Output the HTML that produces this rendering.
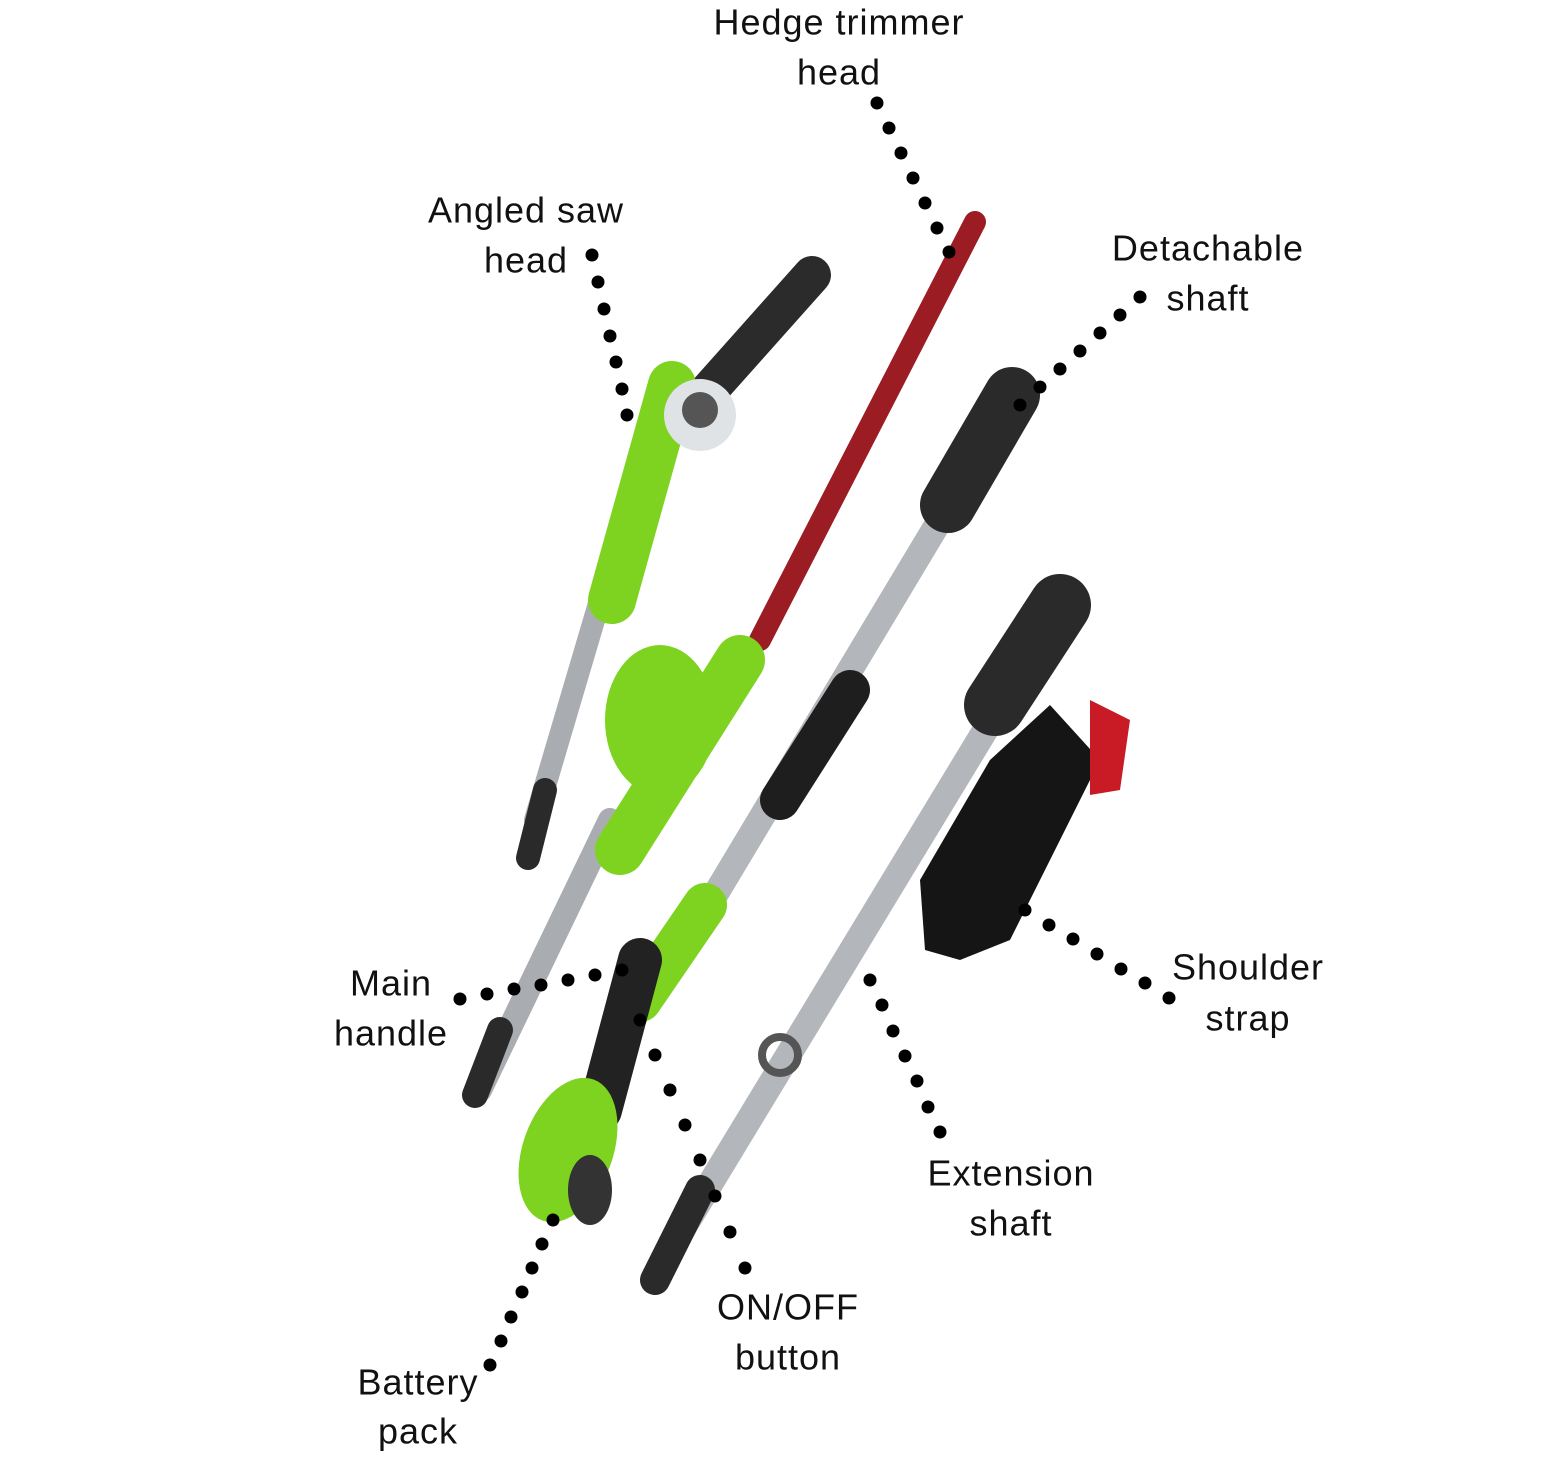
<!DOCTYPE html>
<html><head><meta charset="utf-8"><style>
html,body{margin:0;padding:0;background:#fff;}
svg{display:block}
text{font-family:"Liberation Sans",sans-serif;font-size:36px;letter-spacing:1px;fill:#111;text-anchor:middle;dominant-baseline:middle}
</style></head><body>
<svg width="1555" height="1466" viewBox="0 0 1555 1466" xmlns="http://www.w3.org/2000/svg">
<g stroke-linecap="round" fill="none">
 <line x1="600" y1="600" x2="535" y2="820" stroke="#a9adb2" stroke-width="22"/>
 <line x1="545" y1="790" x2="528" y2="858" stroke="#2a2a2a" stroke-width="24"/>
 <line x1="812" y1="275" x2="705" y2="395" stroke="#2b2b2b" stroke-width="38"/>
 <line x1="672" y1="385" x2="612" y2="600" stroke="#7ed321" stroke-width="48"/>
 <circle cx="700" cy="415" r="36" fill="#dfe3e6"/>
 <circle cx="700" cy="410" r="18" fill="#555"/>
 <line x1="975" y1="222" x2="760" y2="640" stroke="#9b1c22" stroke-width="22"/>
 <line x1="610" y1="820" x2="480" y2="1090" stroke="#a9adb2" stroke-width="24"/>
 <line x1="500" y1="1030" x2="475" y2="1095" stroke="#2a2a2a" stroke-width="26"/>
 <line x1="740" y1="660" x2="620" y2="850" stroke="#7ed321" stroke-width="50"/>
 <ellipse cx="660" cy="720" rx="55" ry="75" fill="#7ed321"/>
 <!-- detachable shaft -->
 <line x1="1000" y1="420" x2="700" y2="920" stroke="#b3b7bc" stroke-width="26"/>
 <line x1="1012" y1="395" x2="948" y2="505" stroke="#2a2a2a" stroke-width="56"/>
 <line x1="850" y1="690" x2="780" y2="800" stroke="#1e1e1e" stroke-width="40"/>
 <line x1="705" y1="905" x2="640" y2="1000" stroke="#7ed321" stroke-width="44"/>
 <line x1="640" y1="960" x2="600" y2="1110" stroke="#222" stroke-width="44"/>
 <ellipse cx="568" cy="1150" rx="45" ry="75" fill="#7ed321" transform="rotate(20 568 1150)"/>
 <ellipse cx="590" cy="1190" rx="22" ry="35" fill="#333"/>
 <!-- extension shaft -->
 <line x1="1040" y1="640" x2="670" y2="1250" stroke="#b3b7bc" stroke-width="26"/>
 <line x1="1060" y1="605" x2="995" y2="705" stroke="#2a2a2a" stroke-width="62"/>
 <line x1="700" y1="1190" x2="655" y2="1280" stroke="#2a2a2a" stroke-width="30"/>
 <circle cx="780" cy="1055" r="18" fill="none" stroke="#555" stroke-width="8"/>
 <polygon points="1050,705 1100,760 1010,940 960,960 925,950 920,880 990,760" fill="#151515" stroke="none"/>
 <polygon points="1090,700 1130,720 1120,790 1090,795" fill="#c81b25" stroke="none"/>
</g>
<g fill="#000">
 <circle cx="877" cy="103" r="6.5"/><circle cx="889" cy="128" r="6.5"/><circle cx="901" cy="153" r="6.5"/><circle cx="913" cy="178" r="6.5"/><circle cx="925" cy="203" r="6.5"/><circle cx="937" cy="228" r="6.5"/><circle cx="949" cy="252" r="6.5"/>
 <circle cx="592" cy="255" r="6.5"/><circle cx="598" cy="282" r="6.5"/><circle cx="604" cy="309" r="6.5"/><circle cx="610" cy="336" r="6.5"/><circle cx="616" cy="362" r="6.5"/><circle cx="622" cy="389" r="6.5"/><circle cx="627" cy="415" r="6.5"/>
 <circle cx="1140" cy="297" r="6.5"/><circle cx="1120" cy="315" r="6.5"/><circle cx="1100" cy="333" r="6.5"/><circle cx="1080" cy="351" r="6.5"/><circle cx="1060" cy="369" r="6.5"/><circle cx="1040" cy="387" r="6.5"/><circle cx="1020" cy="405" r="6.5"/>
 <circle cx="460" cy="999" r="6.5"/><circle cx="487" cy="994" r="6.5"/><circle cx="514" cy="989" r="6.5"/><circle cx="541" cy="985" r="6.5"/><circle cx="568" cy="980" r="6.5"/><circle cx="595" cy="975" r="6.5"/><circle cx="622" cy="970" r="6.5"/>
 <circle cx="1025" cy="910" r="6.5"/><circle cx="1049" cy="925" r="6.5"/><circle cx="1073" cy="939" r="6.5"/><circle cx="1097" cy="954" r="6.5"/><circle cx="1121" cy="969" r="6.5"/><circle cx="1145" cy="983" r="6.5"/><circle cx="1169" cy="998" r="6.5"/>
 <circle cx="870" cy="980" r="6.5"/><circle cx="882" cy="1005" r="6.5"/><circle cx="893" cy="1031" r="6.5"/><circle cx="905" cy="1056" r="6.5"/><circle cx="917" cy="1081" r="6.5"/><circle cx="928" cy="1107" r="6.5"/><circle cx="940" cy="1132" r="6.5"/>
 <circle cx="640" cy="1020" r="6.5"/><circle cx="655" cy="1055" r="6.5"/><circle cx="670" cy="1090" r="6.5"/><circle cx="685" cy="1125" r="6.5"/><circle cx="700" cy="1160" r="6.5"/><circle cx="715" cy="1196" r="6.5"/><circle cx="730" cy="1232" r="6.5"/><circle cx="745" cy="1268" r="6.5"/>
 <circle cx="553" cy="1220" r="6.5"/><circle cx="542" cy="1244" r="6.5"/><circle cx="532" cy="1268" r="6.5"/><circle cx="522" cy="1292" r="6.5"/><circle cx="511" cy="1317" r="6.5"/><circle cx="501" cy="1341" r="6.5"/><circle cx="490" cy="1365" r="6.5"/>
</g>
<text x="839" y="25">Hedge trimmer</text><text x="839" y="75">head</text>
<text x="526" y="213">Angled saw</text><text x="526" y="263">head</text>
<text x="1208" y="251">Detachable</text><text x="1208" y="301">shaft</text>
<text x="391" y="986">Main</text><text x="391" y="1036">handle</text>
<text x="1248" y="970">Shoulder</text><text x="1248" y="1021">strap</text>
<text x="1011" y="1176">Extension</text><text x="1011" y="1226">shaft</text>
<text x="788" y="1310">ON/OFF</text><text x="788" y="1360">button</text>
<text x="418" y="1385">Battery</text><text x="418" y="1434">pack</text>
</svg>
</body></html>
